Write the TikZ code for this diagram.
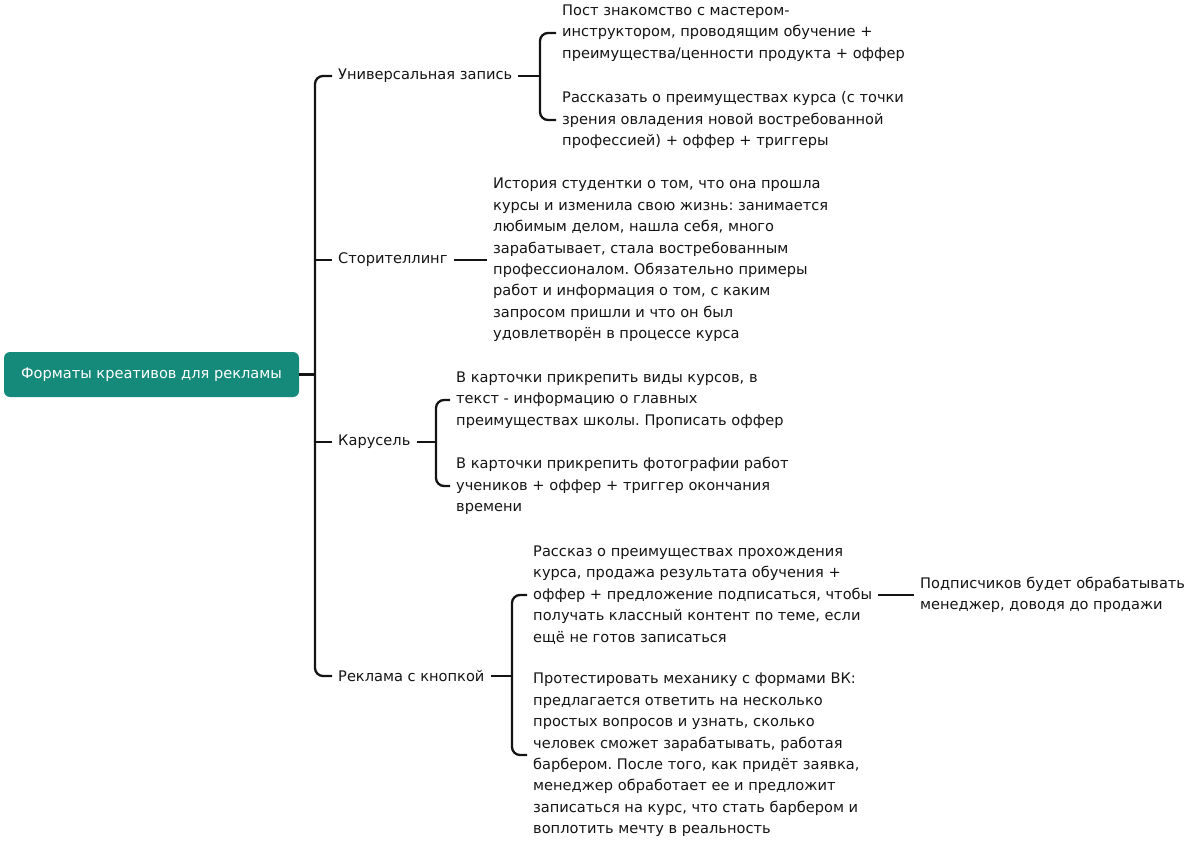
\documentclass[tikz,border=0pt]{standalone}
\usepackage{fontspec}
\setmainfont{DejaVu Sans}
\frenchspacing
\definecolor{teal}{HTML}{168A7A}
\definecolor{ink}{HTML}{141414}
\tikzset{
  conn/.style={draw=ink, line width=2.3pt, rounded corners=8pt},
  txt/.style={anchor=west, inner xsep=6pt, inner ysep=0pt, align=left, text=ink,
    font=\fontsize{14.6}{21.4}\selectfont},
  rootbox/.style={fill=teal, rounded corners=6pt, text=white, minimum width=295pt,
    minimum height=45pt, inner sep=0pt, font=\fontsize{14.6}{21.4}\selectfont}
}
\begin{document}
\begin{tikzpicture}[x=1pt,y=-1pt]
\useasboundingbox (0,0) rectangle (1200,846);
\node[rootbox] (root) at (151.5,374.5) {Форматы креативов для рекламы};
\node[txt] (u) at (332,76) {Универсальная запись};
\node[txt] (s) at (332,260) {Сторителлинг};
\node[txt] (k) at (332,442) {Карусель};
\node[txt] (r) at (332,676) {Реклама с кнопкой};
\node[txt] (u1) at (556,33) {Пост знакомство с мастером-\\инструктором, проводящим обучение +\\преимущества/ценности продукта + оффер};
\node[txt] (u2) at (556,120) {Рассказать о преимуществах курса (с точки\\зрения овладения новой востребованной\\профессией) + оффер + триггеры};
\node[txt] (s1) at (487,260) {История студентки о том, что она прошла\\курсы и изменила свою жизнь: занимается\\любимым делом, нашла себя, много\\зарабатывает, стала востребованным\\профессионалом. Обязательно примеры\\работ и информация о том, с каким\\запросом пришли и что он был\\удовлетворён в процессе курса};
\node[txt] (k1) at (450,400) {В карточки прикрепить виды курсов, в\\текст - информацию о главных\\преимуществах школы. Прописать оффер};
\node[txt] (k2) at (450,486) {В карточки прикрепить фотографии работ\\учеников + оффер + триггер окончания\\времени};
\node[txt] (r1) at (527,595) {Рассказ о преимуществах прохождения\\курса, продажа результата обучения +\\оффер + предложение подписаться, чтобы\\получать классный контент по теме, если\\ещё не готов записаться};
\node[txt] (r2) at (527,755) {Протестировать механику с формами ВК:\\предлагается ответить на несколько\\простых вопросов и узнать, сколько\\человек сможет зарабатывать, работая\\барбером. После того, как придёт заявка,\\менеджер обработает ее и предложит\\записаться на курс, что стать барбером и\\воплотить мечту в реальность};
\node[txt] (p) at (914,595) {Подписчиков будет обрабатывать\\менеджер, доводя до продажи};
\coordinate (tx) at (315,0);
\coordinate (bx) at (540,0);
\coordinate (kx) at (436,0);
\coordinate (rx) at (512,0);
% trunk
\draw[conn] (u.west) -| (tx |- r.west) -- (r.west);
\draw[conn] (s.west) -- (tx |- s.west);
\draw[conn] (k.west) -- (tx |- k.west);
\draw[conn] (root.east) -- (tx |- root.east);
% universal
\draw[conn] (u.east) -- (bx |- u.east);
\draw[conn] (u1.west) -| (bx |- u2.west) -- (u2.west);
% story
\draw[conn] (s.east) -- (s.east -| s1.west);
% carousel
\draw[conn] (k.east) -- (kx |- k.east);
\draw[conn] (k1.west) -| (kx |- k2.west) -- (k2.west);
% button
\draw[conn] (r.east) -- (rx |- r.east);
\draw[conn] (r1.west) -| (rx |- r2.west) -- (r2.west);
\draw[conn] (r1.east) -- (r1.east -| p.west);
\end{tikzpicture}
\end{document}
